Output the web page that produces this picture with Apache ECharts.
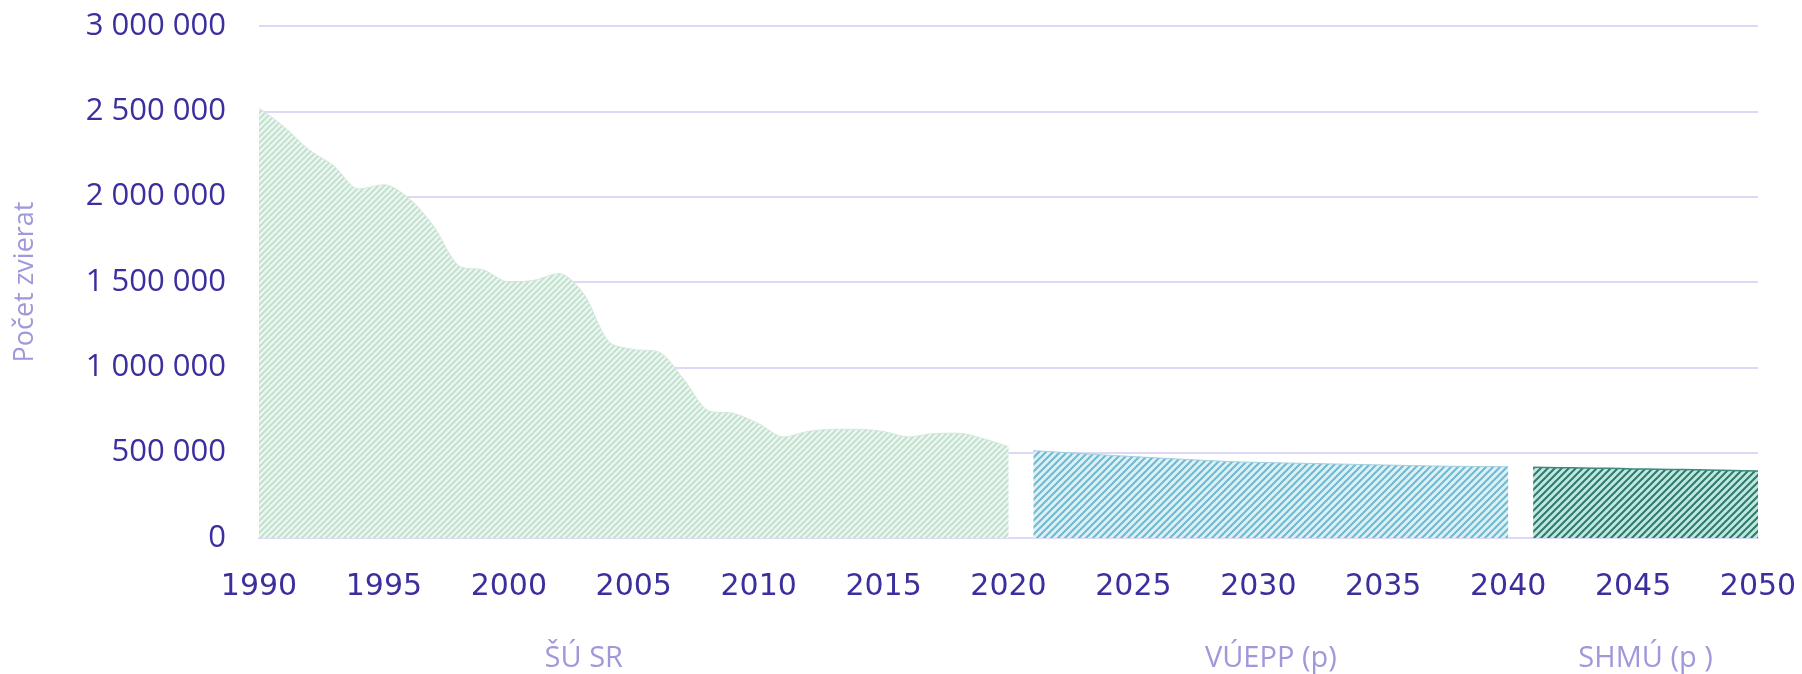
<!DOCTYPE html>
<html>
<head>
<meta charset="utf-8">
<script src="https://cdn.jsdelivr.net/npm/echarts@6/dist/echarts.min.js"></script>
<style>html,body{margin:0;padding:0;background:#fff}</style>
</head>
<body>
<div id="main" style="width:1802px;height:674px"></div>
<script>
// údaje - ŠÚ SR (skutočnosť)
const yearsSU = [1990, 1991, 1992, 1993, 1994, 1995, 1996, 1997, 1998, 1999, 2000,
  2001, 2002, 2003, 2004, 2005, 2006, 2007, 2008, 2009, 2010,
  2011, 2012, 2013, 2014, 2015, 2016, 2017, 2018, 2019, 2020]
const valuesSU = [2520000, 2410000, 2275000, 2180000, 2045000, 2070000, 1990000, 1825000, 1595000, 1570000, 1500000,
  1510000, 1550000, 1430000, 1150000, 1105000, 1090000, 930000, 745000, 730000, 670000,
  592000, 625000, 637000, 637000, 624000, 592000, 612000, 614000, 582000, 535000]
// prognóza VÚEPP
const yearsVUEPP = [2021, 2022, 2023, 2024, 2025, 2026, 2027, 2028, 2029, 2030,
  2031, 2032, 2033, 2034, 2035, 2036, 2037, 2038, 2039, 2040]
const valuesVUEPP = [512000, 503000, 494000, 485000, 477000, 469000, 461000, 454000, 447000, 443000,
  440000, 437000, 434000, 431000, 428000, 425000, 422000, 420000, 419000, 418000]
// prognóza SHMÚ
const yearsSHMU = [2041, 2042, 2043, 2044, 2045, 2046, 2047, 2048, 2049, 2050]
const valuesSHMU = [414000, 412000, 410000, 408000, 405000, 403000, 401000, 399000, 396000, 393000]

const sourceNames = ['ŠÚ SR', 'VÚEPP (p)', 'SHMÚ (p )']
const sourceAt = [2003, 2030.5, 2045.5]

const zip = (xs, ys) => xs.map((x, i) => [x, ys[i]])

// šrafovanie
function hatch(bg, fg, size, w) {
  const c = document.createElement('canvas')
  c.width = size
  c.height = size
  const g = c.getContext('2d')
  g.fillStyle = bg
  g.fillRect(0, 0, size, size)
  g.strokeStyle = fg
  g.lineWidth = w
  g.beginPath()
  g.moveTo(-1, size + 1); g.lineTo(size + 1, -1)
  g.moveTo(-2, 2); g.lineTo(2, -2)
  g.moveTo(size - 2, size + 2); g.lineTo(size + 2, size - 2)
  g.stroke()
  return { image: c, repeat: 'repeat' }
}

const labelColor = '#3b2f9e'
const lightText = '#9f98da'
const gridColor = '#dcd8f5'

const myChart = echarts.init(document.getElementById('main'))
const option = {
  animation: false,
  grid: { left: 259, right: 44, top: 26, bottom: 136 },
  xAxis: [
    {
      type: 'value',
      min: 1990,
      max: 2050,
      interval: 5,
      axisLine: { show: true, lineStyle: { color: gridColor, width: 2 } },
      axisTick: { show: false },
      splitLine: { show: false },
      axisLabel: {
        color: labelColor,
        fontFamily: 'DejaVu Sans',
        fontSize: 30,
        margin: 34,
        showMinLabel: true,
        showMaxLabel: true,
        formatter: v => String(v)
      }
    },
    {
      type: 'value',
      min: 1990,
      max: 2050,
      position: 'bottom',
      axisLine: { show: false },
      axisTick: { show: false },
      splitLine: { show: false },
      axisLabel: {
        customValues: sourceAt,
        color: lightText,
        fontFamily: 'Open Sans',
        fontSize: 29,
        margin: 106,
        formatter: v => sourceNames[sourceAt.indexOf(v)]
      }
    }
  ],
  yAxis: {
    type: 'value',
    min: 0,
    max: 3000000,
    interval: 500000,
    name: 'Počet zvierat',
    nameLocation: 'middle',
    nameRotate: 90,
    nameGap: 220,
    nameTextStyle: { color: lightText, fontFamily: 'Open Sans', fontSize: 27 },
    axisLine: { show: false },
    axisTick: { show: false },
    splitLine: { lineStyle: { color: gridColor, width: 2 } },
    axisLabel: {
      color: labelColor,
      fontFamily: 'Open Sans',
      fontSize: 31,
      margin: 33,
      formatter: v => String(v).replace(/\B(?=(\d{3})+(?!\d))/g, ' ')
    }
  },
  series: [
    {
      name: 'ŠÚ SR',
      type: 'line',
      smooth: 0.3,
      symbol: 'none',
      data: zip(yearsSU, valuesSU),
      lineStyle: { width: 1, color: '#d3e9dd' },
      areaStyle: { opacity: 1, color: hatch('#eff7f2', '#c3e0d0', 6, 2) }
    },
    {
      name: 'VÚEPP (p)',
      type: 'line',
      smooth: 0.3,
      symbol: 'none',
      data: zip(yearsVUEPP, valuesVUEPP),
      lineStyle: { width: 1, color: '#9fd0de' },
      areaStyle: { opacity: 1, color: hatch('#dff0f5', '#6dbad2', 7, 2) }
    },
    {
      name: 'SHMÚ (p )',
      type: 'line',
      smooth: 0.3,
      symbol: 'none',
      data: zip(yearsSHMU, valuesSHMU),
      lineStyle: { width: 1.5, color: '#3f8a7c' },
      areaStyle: { opacity: 1, color: hatch('#bfe8e1', '#2f7a6b', 7, 2) }
    }
  ]
}
myChart.setOption(option)
</script>
</body>
</html>
